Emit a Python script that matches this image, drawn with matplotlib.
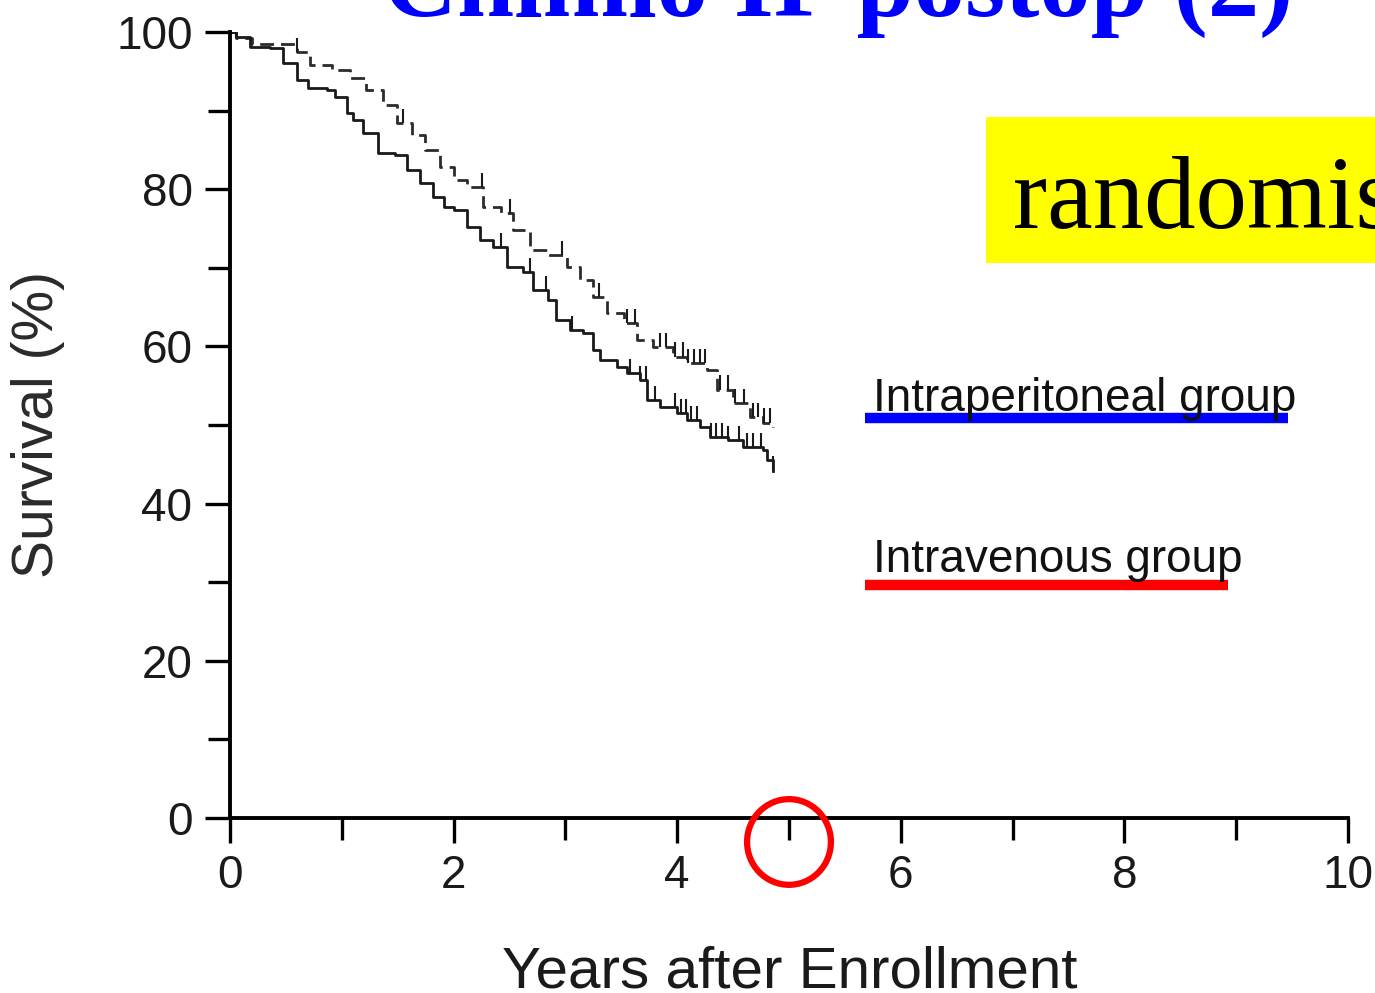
import matplotlib
matplotlib.use("Agg")
import matplotlib.pyplot as plt
import numpy as np
from matplotlib.lines import Line2D
from matplotlib.patches import Rectangle, Ellipse

plt.rcParams['font.family'] = ['Liberation Sans', 'DejaVu Sans']

# Kaplan-Meier estimates (years, survival %)
ip_t = [0, 0.05, 0.2, 0.6, 0.72, 0.91, 1.07, 1.22, 1.37, 1.49, 1.63, 1.74, 1.88,
        2.0, 2.12, 2.26, 2.42, 2.53, 2.68, 2.84, 3.01, 3.13, 3.25, 3.37, 3.52,
        3.64, 3.78, 3.96, 4.09, 4.27, 4.36, 4.5, 4.65, 4.77, 4.86]
ip_s = [100, 99.3, 98.5, 97.5, 95.8, 95.2, 94.1, 92.6, 90.7, 88.4, 86.9, 85.0, 82.8,
        81.2, 80.3, 77.7, 77.0, 74.8, 72.3, 71.6, 70.1, 68.4, 66.3, 64.2, 63.0,
        60.8, 59.9, 58.7, 57.9, 57.0, 54.5, 52.8, 51.0, 50.3, 49.7]

iv_t = [0, 0.05, 0.18, 0.36, 0.47, 0.6, 0.7, 0.87, 0.94, 1.05, 1.1, 1.19, 1.32,
        1.48, 1.58, 1.7, 1.82, 1.91, 2.0, 2.12, 2.24, 2.35, 2.48, 2.62, 2.71,
        2.84, 2.92, 3.04, 3.16, 3.25, 3.31, 3.46, 3.55, 3.67, 3.73, 3.85, 4.0,
        4.09, 4.2, 4.29, 4.45, 4.59, 4.77, 4.8, 4.86]
iv_s = [100, 99.4, 98.1, 98.0, 96.1, 93.9, 92.9, 92.6, 91.7, 89.7, 88.8, 87.1, 84.6,
        84.4, 82.4, 80.8, 79.0, 77.7, 77.4, 75.2, 73.5, 72.6, 70.1, 69.5, 67.2,
        65.9, 63.4, 62.1, 61.7, 59.5, 58.3, 57.4, 56.6, 55.7, 53.2, 52.3, 51.5,
        50.6, 49.7, 48.5, 48.1, 47.2, 46.8, 45.5, 44.2]

# censored observations
ip_cens = [0.05, 0.6, 1.55, 2.25, 2.5, 2.97, 3.3, 3.55, 3.62, 3.85, 3.9, 3.98,
           4.05, 4.1, 4.15, 4.2, 4.25, 4.38, 4.45, 4.52, 4.6, 4.68, 4.72, 4.78, 4.83]
iv_cens = [0.05, 2.42, 2.68, 2.83, 3.06, 3.58, 3.67, 3.72, 3.8, 3.98, 4.03, 4.08,
           4.12, 4.18, 4.3, 4.35, 4.4, 4.45, 4.55, 4.62, 4.68, 4.75, 4.86]

x_ticks = [0, 2, 4, 6, 8, 10]
y_ticks = [0, 20, 40, 60, 80, 100]

title = 'Chimio IP postop (2)'
groups = ['Intraperitoneal group', 'Intravenous group']
group_colors = ['#0000ff', '#ff0000']

W, H = 1375, 993


def fx(px):
    return px / W


def fy(py):
    return 1 - py / H


def surv_at(t, times, surv):
    idx = np.searchsorted(times, t, side='right') - 1
    return np.array(surv)[idx]


fig = plt.figure(figsize=(W / 100, H / 100), dpi=100)
ax = fig.add_axes([fx(230), fy(818), fx(1348) - fx(230), fy(32) - fy(818)])

ax.step(ip_t, ip_s, where='post', color='#2b2b2b', lw=2.0, ls=(0, (5, 2.5)))
ax.step(iv_t, iv_s, where='post', color='#1a1a1a', lw=2.0)

for cens, times, surv in [(ip_cens, ip_t, ip_s), (iv_cens, iv_t, iv_s)]:
    c = np.array(cens)
    s = surv_at(c, times, surv)
    ax.vlines(c, s, s + 1.8, color='#1a1a1a', lw=1.5)

ax.set_xlim(0, 10)
ax.set_ylim(0, 100)
ax.set_xticks(x_ticks)
ax.set_xticks([1, 3, 5, 7, 9], minor=True)
ax.set_yticks(y_ticks)
ax.set_yticks([10, 30, 50, 70, 90], minor=True)
for side in ['top', 'right']:
    ax.spines[side].set_visible(False)
for side in ['left', 'bottom']:
    ax.spines[side].set_linewidth(2.8)
ax.tick_params(which='major', length=18, width=2.4, labelcolor='#1a1a1a')
ax.tick_params(which='minor', length=16, width=2.4)
ax.tick_params(axis='x', which='major', pad=8, labelsize=33)
ax.tick_params(axis='y', which='major', pad=9, labelsize=33)

# highlight the 5-year mark
ax.add_patch(Ellipse((5, -3.05), 0.75, 10.9, fill=False, edgecolor='#ff0000',
                     lw=4.5, clip_on=False, zorder=5))

fig.text(fx(790), fy(988), 'Years after Enrollment', ha='center', va='baseline',
         fontsize=42, color='#1a1a1a')
fig.text(fx(38), fy(425), 'Survival (%)', rotation=90, ha='center', va='center',
         fontsize=41, color='#2a2a2a')

fig.text(fx(383), fy(16), title, family='Liberation Serif', weight='bold',
         color='#0000ff', fontsize=74, ha='left', va='baseline')

fig.patches.append(Rectangle((fx(986), fy(263)), fx(W - 986), fy(117) - fy(263),
                             transform=fig.transFigure, facecolor='#ffff00',
                             edgecolor='none'))
fig.text(fx(1013), fy(228), 'randomisé', family='Liberation Serif', color='black',
         fontsize=74, ha='left', va='baseline')

for label, color, ty, ly, lx1 in zip(groups, group_colors, [411, 572], [418, 585], [1288, 1228]):
    fig.text(fx(873), fy(ty), label, fontsize=33, color='#111111', ha='left',
             va='baseline')
    fig.add_artist(Line2D([fx(865), fx(lx1)], [fy(ly), fy(ly)], lw=7.5,
                          color=color, solid_capstyle='butt'))

fig.savefig('out.png', dpi=100)
